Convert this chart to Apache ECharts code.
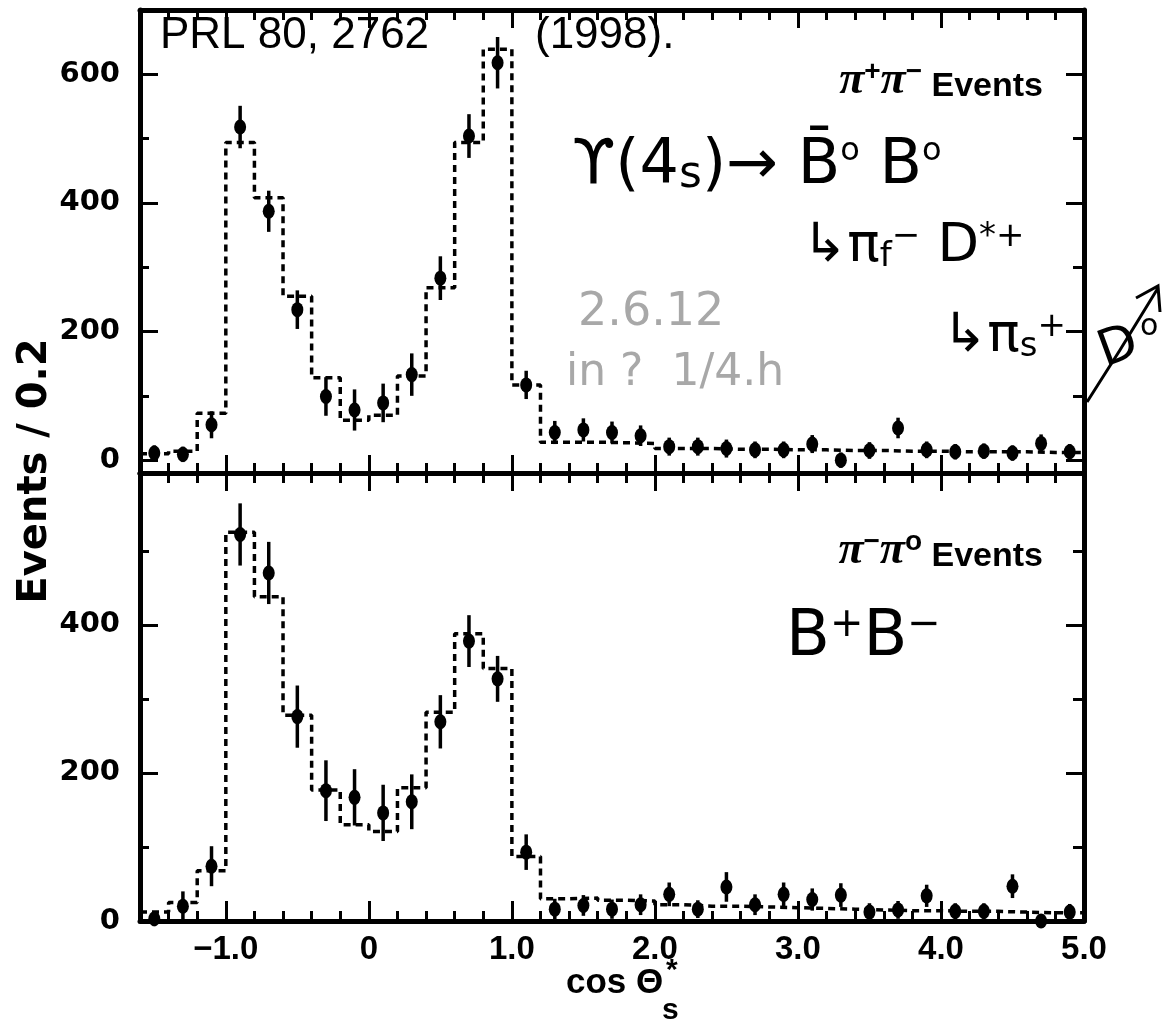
<!DOCTYPE html>
<html><head><meta charset="utf-8">
<script src="https://cdn.jsdelivr.net/npm/echarts@6/dist/echarts.min.js"></script>
<style>html,body{margin:0;padding:0;background:#fff}#chart{width:1167px;height:1027px}</style>
</head><body><div id="chart"></div>
<script>
// ---- data (bin centres, 0.2 wide) ----
const binCenters = [-1.5,-1.3,-1.1,-0.9,-0.7,-0.5,-0.3,-0.1,0.1,0.3,0.5,0.7,0.9,1.1,1.3,1.5,1.7,1.9,2.1,2.3,2.5,2.7,2.9,3.1,3.3,3.5,3.7,3.9,4.1,4.3,4.5,4.7,4.9];
// pi+ pi- events (upper panel)
const topPoints = [11,9,55,518,387,234,99,78,89,133,283,504,618,117,43,47,43,38,21,21,18,16,16,25,0,15,50,16,13,14,11,26,13];
const topErrors = [12,12,21,33,32,30,30,32,30,33,34,34,40,22,18,18,17,16,14,14,14,13,13,14,12,13,16,13,12,12,12,14,12];
const topHist   = [10,14,73,494,408,255,128,62,70,131,268,494,639,117,28,28,27,26,18,18,17,17,16,16,15,15,14,14,13,13,13,12,12];
// pi- pi0 events (lower panel)
const botPoints = [3,20,74,522,470,276,176,167,146,161,269,378,327,93,16,21,16,22,36,16,46,22,36,29,35,12,15,34,13,13,47,0,12];
const botErrors = [10,20,27,42,42,42,41,38,38,37,36,35,31,24,14,14,13,14,16,12,20,14,16,15,16,12,12,15,11,11,16,8,11];
const botHist   = [12,25,68,525,438,278,177,130,121,180,282,388,341,87,30,31,28,27,22,20,20,19,18,17,16,15,14,14,13,13,12,11,11];
// ticks
const xMajorTicks = [-1,0,1,2,3,4,5];
const xTickLabels = ['\u22121.0','0','1.0','2.0','3.0','4.0','5.0'];
const topMajorTicks = [0,200,400,600];
const topMinorTicks = [100,300,500];
const botMajorTicks = [0,200,400];
const botMinorTicks = [100,300,500];
const binWidth = 0.2;

const xMinorTicks = [];
for (let k = -14; k <= 48; k += 2) { if (k % 10 !== 0) xMinorTicks.push(k / 10); }

const BLACK = '#000';
function histData(centers, vals) {
  const d = centers.map((c, i) => [c - binWidth / 2, vals[i]]);
  d.push([centers[centers.length - 1] + binWidth / 2, vals[vals.length - 1]]);
  return d;
}
function xAxisDef(grid, pos, ticks, len, opts) {
  return Object.assign({
    type: 'value', gridIndex: grid, position: pos, min: -1.6, max: 5.0,
    axisLine: { show: true, onZero: false, lineStyle: { color: BLACK, width: 5 } },
    axisTick: { show: true, inside: true, length: len, customValues: ticks, lineStyle: { color: BLACK, width: 3 } },
    axisLabel: { show: false }, splitLine: { show: false }
  }, opts || {});
}
function yAxisDef(grid, pos, min, max, ticks, len, opts) {
  return Object.assign({
    type: 'value', gridIndex: grid, position: pos, min: min, max: max,
    axisLine: { show: true, onZero: false, lineStyle: { color: BLACK, width: 5 } },
    axisTick: { show: true, inside: true, length: len, customValues: ticks, lineStyle: { color: BLACK, width: 3 } },
    axisLabel: { show: false }, splitLine: { show: false }
  }, opts || {});
}
const xLabelCfg = {
  axisLabel: {
    show: true, customValues: xMajorTicks, margin: 12,
    fontFamily: 'Liberation Sans', fontWeight: 'bold', fontSize: 33, color: BLACK,
    formatter: v => { const i = xMajorTicks.findIndex(t => Math.abs(t - v) < 1e-6); return i >= 0 ? xTickLabels[i] : ''; }
  }
};
function yLabelCfg(vals) {
  return { axisLabel: { show: true, customValues: vals, margin: 20,
    fontFamily: 'DejaVu Sans', fontWeight: 'bold', fontSize: 29, color: BLACK,
    formatter: v => String(Math.round(v)) } };
}
function errSeries(xi, yi, centers, vals, errs) {
  return {
    type: 'custom', xAxisIndex: xi, yAxisIndex: yi, clip: false,
    data: centers.map((c, i) => [c, vals[i], errs[i]]),
    encode: { x: 0, y: 1 },
    renderItem: (params, api) => {
      const x = api.value(0), y = api.value(1), e = api.value(2);
      const p1 = api.coord([x, y - e]), p2 = api.coord([x, y + e]);
      return { type: 'line', shape: { x1: p1[0], y1: p1[1], x2: p2[0], y2: p2[1] },
        style: { stroke: BLACK, lineWidth: 3.5 } };
    }
  };
}
function histSeries(xi, yi, centers, vals) {
  return { type: 'line', xAxisIndex: xi, yAxisIndex: yi, step: 'end', symbol: 'none', silent: true,
    data: histData(centers, vals), lineStyle: { color: BLACK, width: 3.5, type: [7, 5] }, z: 1 };
}
function pointSeries(xi, yi, centers, vals) {
  return { type: 'scatter', xAxisIndex: xi, yAxisIndex: yi, symbol: 'circle', symbolSize: [12, 15],
    itemStyle: { color: BLACK, opacity: 1 }, data: centers.map((c, i) => [c, vals[i]]), z: 3 };
}
const panelRich = {
  p: { font: 'italic bold 46px "Liberation Serif"', fill: BLACK, verticalAlign: 'bottom' },
  s: { font: 'bold 28px "Liberation Sans"', fill: BLACK, verticalAlign: 'top' },
  e: { font: 'bold 34px "Liberation Sans"', fill: BLACK, verticalAlign: 'bottom' }
};

const handFont = 'Liberation Sans';
const option = {
  animation: false,
  backgroundColor: '#fff',
  grid: [
    { left: 140, top: 10, width: 944, height: 463 },
    { left: 140, top: 473, width: 944, height: 448 }
  ],
  xAxis: [
    xAxisDef(0, 'bottom', xMajorTicks, 18),
    xAxisDef(0, 'bottom', xMinorTicks, 10, { axisLine: { show: false, onZero: false } }),
    xAxisDef(0, 'top', xMajorTicks, 18),
    xAxisDef(0, 'top', xMinorTicks, 10, { axisLine: { show: false, onZero: false } }),
    xAxisDef(1, 'bottom', xMajorTicks, 20, xLabelCfg),
    xAxisDef(1, 'bottom', xMinorTicks, 10, { axisLine: { show: false, onZero: false } }),
    xAxisDef(1, 'top', xMajorTicks, 18),
    xAxisDef(1, 'top', xMinorTicks, 10, { axisLine: { show: false, onZero: false } })
  ],
  yAxis: [
    yAxisDef(0, 'left', -20, 700, topMajorTicks, 18, yLabelCfg(topMajorTicks)),
    yAxisDef(0, 'left', -20, 700, topMinorTicks, 9, { axisLine: { show: false, onZero: false } }),
    yAxisDef(0, 'right', -20, 700, topMajorTicks, 18),
    yAxisDef(0, 'right', -20, 700, topMinorTicks, 11, { axisLine: { show: false, onZero: false } }),
    yAxisDef(1, 'left', 0, 605, botMajorTicks, 18, yLabelCfg(botMajorTicks)),
    yAxisDef(1, 'left', 0, 605, botMinorTicks, 9, { axisLine: { show: false, onZero: false } }),
    yAxisDef(1, 'right', 0, 605, botMajorTicks, 18),
    yAxisDef(1, 'right', 0, 605, botMinorTicks, 11, { axisLine: { show: false, onZero: false } })
  ],
  series: [
    histSeries(0, 0, binCenters, topHist),
    errSeries(0, 0, binCenters, topPoints, topErrors),
    pointSeries(0, 0, binCenters, topPoints),
    histSeries(4, 4, binCenters, botHist),
    errSeries(4, 4, binCenters, botPoints, botErrors),
    pointSeries(4, 4, binCenters, botPoints)
  ],
  graphic: { elements: [
    // axis titles
    { type: 'text', x: 36, y: 471, rotation: Math.PI / 2,
      style: { text: 'Events / 0.2', font: 'bold 40px "DejaVu Sans"', fill: BLACK, align: 'center', verticalAlign: 'middle' } },
    { type: 'text', left: 566, top: 966, style: { text: 'cos \u0398', font: 'bold 35px "Liberation Sans"', fill: BLACK } },
    { type: 'text', left: 666, top: 956, style: { text: '*', font: 'bold 30px "Liberation Sans"', fill: BLACK } },
    { type: 'text', left: 662, top: 996, style: { text: 's', font: 'bold 30px "Liberation Sans"', fill: BLACK } },
    // panel labels
    { type: 'text', right: 124, top: 58, style: { text: '{p|\u03c0}{s|+}{p|\u03c0}{s|\u2212}{e| Events}', rich: panelRich } },
    { type: 'text', right: 124, top: 528, style: { text: '{p|\u03c0}{s|\u2212}{p|\u03c0}{s|o}{e| Events}', rich: panelRich } },
    // handwritten notes
    { type: 'text', left: 160, top: 14, style: { text: 'PRL 80, 2762', font: '44px "' + handFont + '"', fill: BLACK } },
    { type: 'text', left: 535, top: 14, style: { text: '(1998).', font: '44px "' + handFont + '"', fill: BLACK } },
    { type: 'text', left: 572, top: 136, style: {
      text: '{a|\u03d2(4}{b|s}{a|)\u2192 B\u0304}{c|o}{a| B}{c|o}',
      rich: { a: { font: '62px "DejaVu Sans"', fill: BLACK, verticalAlign: 'bottom' },
              b: { font: '44px "DejaVu Sans"', fill: BLACK, verticalAlign: 'bottom' },
              c: { font: '32px "DejaVu Sans"', fill: BLACK, verticalAlign: 'top' } } } },
    { type: 'text', left: 802, top: 220, style: {
      text: '{a|\u21b3\u03c0}{d|f}{c|\u2212}{a| D}{c|*+}',
      rich: { a: { font: '54px "DejaVu Sans"', fill: BLACK, verticalAlign: 'middle' },
              c: { font: '34px "DejaVu Sans"', fill: BLACK, verticalAlign: 'top' },
              d: { font: '34px "DejaVu Sans"', fill: BLACK, verticalAlign: 'bottom' } } } },
    { type: 'text', left: 942, top: 310, style: {
      text: '{a|\u21b3\u03c0}{d|s}{c|+}',
      rich: { a: { font: '54px "DejaVu Sans"', fill: BLACK, verticalAlign: 'middle' },
              c: { font: '34px "DejaVu Sans"', fill: BLACK, verticalAlign: 'top' },
              d: { font: '34px "DejaVu Sans"', fill: BLACK, verticalAlign: 'bottom' } } } },
    { type: 'text', left: 1092, top: 318, rotation: 0.35, style: { text: 'D', font: '50px "DejaVu Sans"', fill: BLACK } },
    { type: 'text', left: 1140, top: 312, style: { text: 'o', font: '30px "DejaVu Sans"', fill: BLACK } },
    { type: 'polyline', shape: { points: [[1087, 402], [1120, 350], [1158, 288]] }, style: { stroke: BLACK, lineWidth: 3, fill: null } },
    { type: 'polyline', shape: { points: [[1136, 298], [1158, 286], [1160, 312]] }, style: { stroke: BLACK, lineWidth: 3, fill: null } },
    { type: 'text', left: 578, top: 290, style: { text: '2.6.12', font: '46px "DejaVu Sans"', fill: '#a8a8a8' } },
    { type: 'text', left: 566, top: 352, style: { text: 'in ?  1/4.h', font: '44px "DejaVu Sans"', fill: '#a8a8a8' } },
    { type: 'text', left: 786, top: 606, style: {
      text: '{a|B}{c|+}{a|B}{c|\u2212}',
      rich: { a: { font: '64px "DejaVu Sans"', fill: BLACK, verticalAlign: 'bottom' },
              c: { font: '40px "DejaVu Sans"', fill: BLACK, verticalAlign: 'top' } } } }
  ] }
};
const chart = echarts.init(document.getElementById('chart'), null, { renderer: 'canvas' });
chart.setOption(option);
</script></body></html>
